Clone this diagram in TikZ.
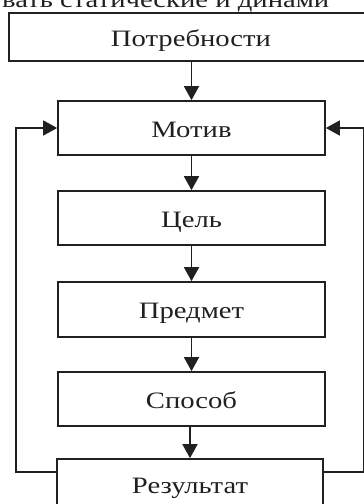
\documentclass[tikz,border=0pt]{standalone}
\usepackage{fontspec}
\setmainfont{Liberation Serif}[FakeStretch=1.22]
\usetikzlibrary{arrows.meta}
\definecolor{ink}{RGB}{35,31,32}
\newcommand\stagefont{\fontsize{23.5}{28}\selectfont}
\tikzset{
  stagebox/.style={draw=ink, line width=1.7pt, rectangle, minimum width=267pt,
    minimum height=54pt, inner sep=0pt, text=ink, text height=18pt, text depth=0pt,
    font=\stagefont},
  flow/.style={draw=ink, line width=1.7pt, -{Triangle[length=14pt,width=15pt]}},
}
\begin{document}
\begin{tikzpicture}[x=1pt,y=-1pt]
  \useasboundingbox (0,0) rectangle (364,504);
  \clip (0,0) rectangle (364,504);

  % running text above the scheme, cut by the page edge
  \node[anchor=base west, inner sep=0pt, text=ink, font=\stagefont]
    (caption) at (2,7.5) {вать статические и динами};

  % stages
  \node[stagebox, minimum width=364pt, minimum height=48pt] (need) at (191,37) {Потребности};
  \node[stagebox] (motive) at (191.5,128) {Мотив};
  \node[stagebox] (goal) at (191.5,218) {Цель};
  \node[stagebox, minimum height=55pt] (object) at (191.5,309.5) {Предмет};
  \node[stagebox] (means) at (191.5,399) {Способ};
  \node[stagebox, minimum width=266pt, minimum height=50pt] (result) at (190,484) {Результат};

  % main chain
  \draw[flow] (need.south -| motive.north) -- (motive.north);
  \draw[flow] (motive) -- (goal);
  \draw[flow] (goal) -- (object);
  \draw[flow] (object) -- (means);
  \draw[flow] (means.south -| result.north) -- (result.north);

  % feedback loops from the result back to the motive
  \draw[flow] (result.north west) ++(0,14) -- ++(-40,0) |- (motive.west);
  \draw[flow] (result.north east) ++(0,14) -- ++(40,0) |- (motive.east);
\end{tikzpicture}
\end{document}
